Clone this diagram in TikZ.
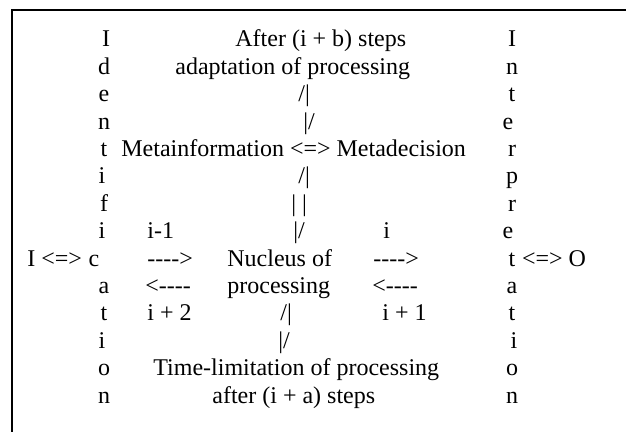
\documentclass[tikz,border=0pt]{standalone}
\usepackage{fontspec}
\setmainfont{Liberation Serif}[Ligatures=TeXOff]

\begin{document}
\begin{tikzpicture}[%
            x=1pt,
            y=1pt,
            font=\fontsize{12}{13.7}\selectfont,
            ]
    \tikzset{txt/.style = {inner sep=0pt, anchor=base west}}
    \tikzset{letter/.style = {inner sep=0pt, anchor=base}}

    \useasboundingbox (0,0) rectangle (313,216);

    % Frame
    \draw[line width=1pt] (313,211) -- (6,211) -- (6,0);

    % Identification & Interpretation
    \foreach \ch/\dx [count=\k from 0] in {I/1,d/0,e/0,n/0,t/0,i/-1,f/0,i/-1,c/-5,a/0,t/0,i/-1,o/0,n/0}
        \node[letter] (id\k) at (52+\dx,{192.5-13.7*\k}) {\ch};
    \foreach \ch/\dx [count=\k from 0] in {I/0,n/0,t/0,e/-2,r/0,p/0,r/0,e/-2,t/0,a/0,t/0,i/1,o/0,n/0}
        \node[letter] (ip\k) at (256+\dx,{192.5-13.7*\k}) {\ch};
    \node[txt, anchor=base east] (inp) at ([xshift=-3pt]id8.base west) {I <=>};
    \node[txt] (outp) at ([xshift=3pt]ip8.base east) {<=> O};

    % Adaptation
    \node[txt] (stepsB) at (117.5,192.5) {After (i + b) steps};
    \node[txt] (adapt) at (87.5,178.8) {adaptation of processing};
    \node[txt] (upA) at (149,165.1) {/|};
    \node[txt] (downA) at (151.5,151.4) {|/};

    % Meta level
    \node[txt] (meta) at (60.5,137.7) {Metainformation <=> Metadecision};
    \node[txt] (upB) at (149,124) {/|};
    \node[txt] (midB) at (145.5,110.3) {| |};
    \node[txt] (downB) at (146.5,96.6) {|/};

    % Nucleus
    \node[txt] (stepL) at (73.5,96.6) {i-1};
    \node[txt] (stepR) at (191.5,96.6) {i};
    \node[txt] (fwdL) at (73.5,82.9) {---->};
    \node[txt] (nucleus) at (113.5,82.9) {Nucleus of};
    \node[txt] (fwdR) at (186.5,82.9) {---->};
    \node[txt] (backL) at (72.5,69.2) {<----};
    \node[txt] (proc) at (113.5,69.2) {processing};
    \node[txt] (backR) at (186,69.2) {<----};
    \node[txt] (stepL2) at (73.5,55.5) {i + 2};
    \node[txt] (upC) at (140,55.5) {/|};
    \node[txt] (stepR1) at (191,55.5) {i + 1};
    \node[txt] (downC) at (139,41.8) {|/};

    % Time limitation
    \node[txt] (limit) at (76.5,28.1) {Time-limitation of processing};
    \node[txt] (stepsA) at (106,14.4) {after (i + a) steps};

\end{tikzpicture}
\end{document}
